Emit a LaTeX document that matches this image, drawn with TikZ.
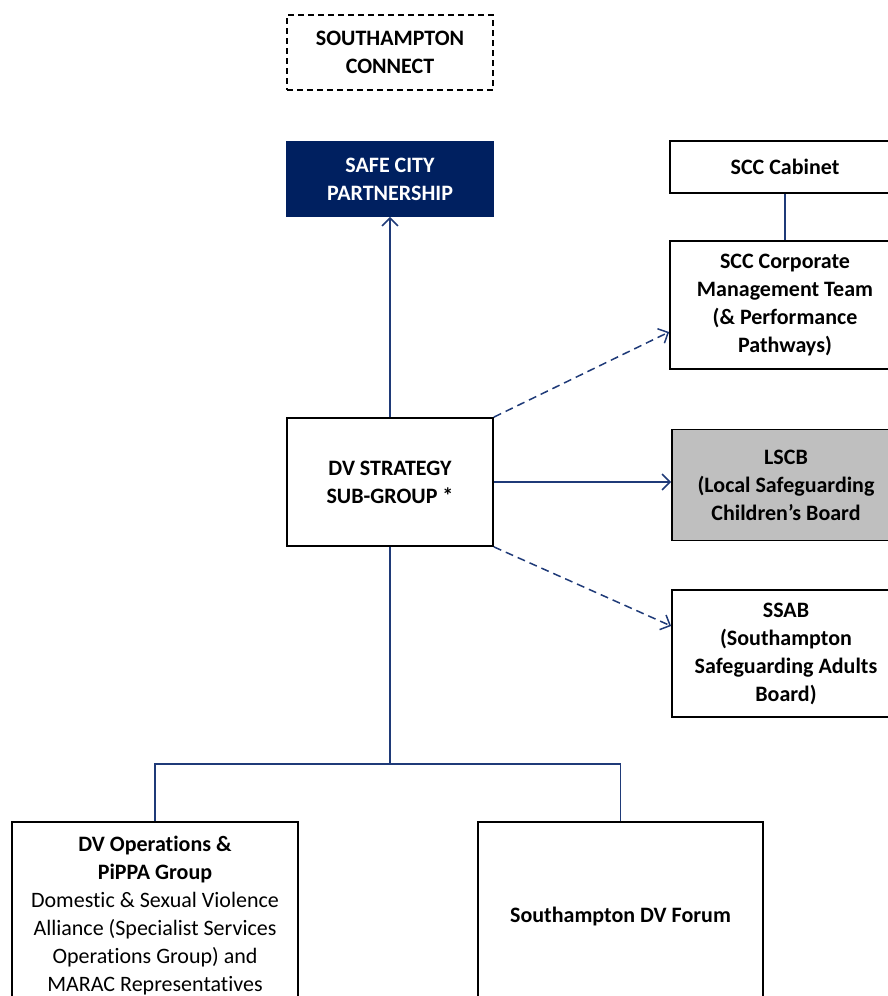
\documentclass[tikz,border=0pt]{standalone}
\usepackage{fontspec}
\setmainfont[Ligatures=NoCommon]{Carlito}
\usetikzlibrary{arrows.meta}
\definecolor{navy}{HTML}{002060}
\definecolor{linkblue}{HTML}{1F3A78}
\definecolor{boardgrey}{HTML}{BFBFBF}

\begin{document}
\begin{tikzpicture}[x=1pt,y=-1pt,
        box/.style={draw,line width=1.8pt,align=center,inner sep=0pt,font=\fontsize{22}{28}\selectfont\bfseries},
        link/.style={draw=linkblue,line width=1.5pt},
        tip/.style={-{Straight Barb[length=8pt,width=16pt,line width=1.5pt]}},
        weak/.style={dash pattern=on 8pt off 5pt}]
        \useasboundingbox (0,0) rectangle (888,996);

        \node[box,dash pattern=on 6pt off 4pt,minimum width=206pt,minimum height=75pt](connect)at(390,52.5){SOUTHAMPTON\\CONNECT};
        \node[box,draw=navy,fill=navy,text=white,minimum width=206pt,minimum height=74pt](safe)at(390,179){SAFE CITY\\PARTNERSHIP};
        \node[box,minimum width=206pt,minimum height=128pt](strat)at(390,482){DV STRATEGY\\SUB-GROUP *};

        \node[box,minimum width=230pt,minimum height=52pt](cabinet)at(785,167){SCC Cabinet};
        \node[box,minimum width=230pt,minimum height=128pt](cmt)at(785,305){SCC Corporate\\Management Team\\(\& Performance\\Pathways)};
        \node[box,fill=boardgrey,minimum width=228pt,minimum height=111pt](lscb)at(786,485){LSCB\\(Local Safeguarding\\Children’s Board};
        \node[box,minimum width=228pt,minimum height=127pt](ssab)at(786,653.5){SSAB\\(Southampton\\Safeguarding Adults\\Board)};

        \node[box,minimum width=286pt,minimum height=188pt](ops)at(155,916){DV Operations \&\\PiPPA Group\\\mdseries Domestic \& Sexual Violence\\\mdseries Alliance (Specialist Services\\\mdseries Operations Group) and\\\mdseries MARAC Representatives};
        \node[box,minimum width=285pt,minimum height=188pt](forum)at(620.5,916){Southampton DV Forum};

        \draw[link,tip](strat)--(safe);
        \draw[link,tip,weak](strat.north east)--([yshift=-27pt]cmt.west);
        \draw[link,tip](strat.east)--(strat.east -| lscb.west);
        \draw[link,tip,weak](strat.south east)--([yshift=27.5pt]ssab.west);
        \draw[link](cabinet)--(cmt);

        \coordinate(split)at(390,764);
        \draw[link](strat)--(split);
        \draw[link](ops.north)|-(split)-|(forum.north);
\end{tikzpicture}
\end{document}
